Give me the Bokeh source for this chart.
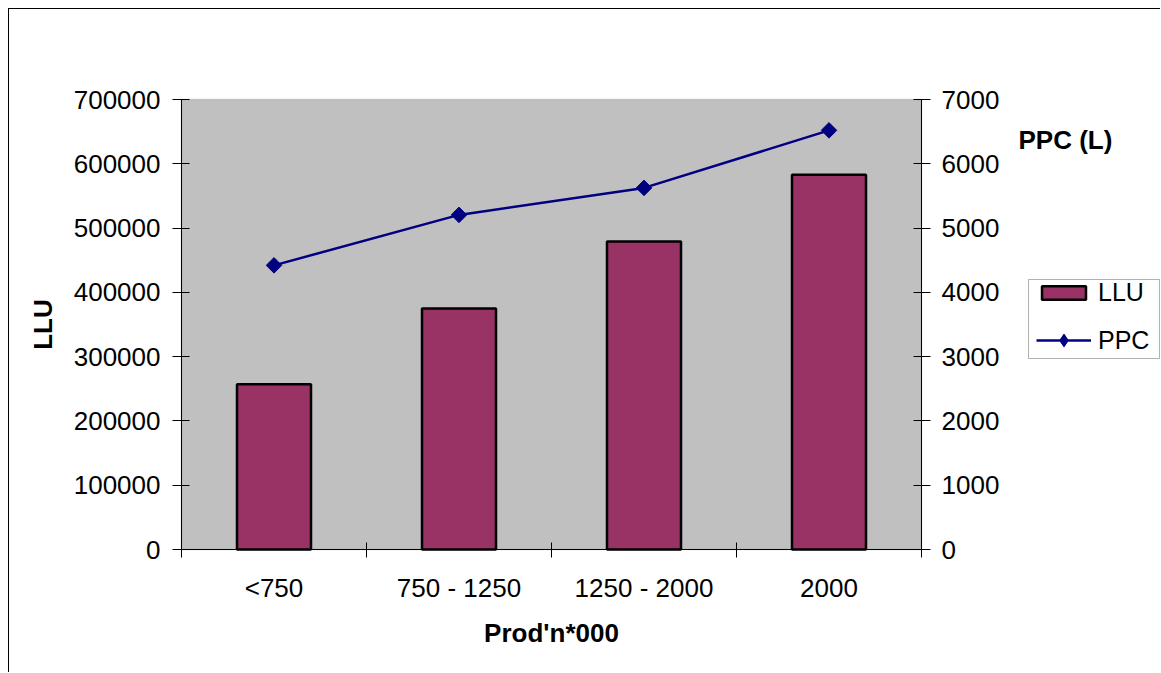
import math
from bokeh.plotting import figure
from bokeh.models import (Range1d, LinearAxis, FixedTicker, BasicTickFormatter,
                          Legend, LegendItem, Label, BoxAnnotation)
from bokeh.embed import file_html
from bokeh.resources import INLINE

# Production bands (thousands) with livestock units and per-cow production
categories = ["<750", "750 - 1250", "1250 - 2000", "2000"]
llu = [257000, 375000, 479000, 583000]
ppc = [4420, 5205, 5625, 6520]

left_ticks = list(range(0, 700001, 100000))
right_ticks = list(range(0, 7001, 1000))

FONT = "Liberation Sans"
BAR = "#993366"
NAVY = "#000080"

# page layout (pixels)
EDGE = 9                    # outer chart border offset from the page corner
W, H = 1161 - EDGE, 673 - EDGE
AREA_LEFT = 181 - EDGE      # left edge of the grey plotting area on the canvas
AREA_BOTTOM = 549 - EDGE    # bottom edge of the grey plotting area
CAT_W = 185                 # width of one category band
AREA_H = 450                # height of the plotting area

n = len(categories)
centers = [i + 0.5 for i in range(n)]
llu_per_px = max(left_ticks) / AREA_H
ppc_per_px = max(right_ticks) / AREA_H

# the frame covers the whole canvas; axes are pinned to the plotting area
p = figure(width=W, height=H, output_backend="svg", toolbar_location=None,
           x_range=Range1d(-AREA_LEFT / CAT_W, (W - AREA_LEFT) / CAT_W),
           y_range=Range1d(-(H - AREA_BOTTOM) * llu_per_px, AREA_BOTTOM * llu_per_px),
           min_border_left=0, min_border_right=0,
           min_border_top=0, min_border_bottom=0,
           margin=(EDGE - 1, 0, 0, EDGE - 1),
           styles={"border-left": "1.5px solid #000000",
                   "border-top": "1.5px solid #000000"})
p.title.visible = False
p.background_fill_color = "white"
p.border_fill_color = "white"
p.outline_line_color = None
p.xgrid.visible = False
p.ygrid.visible = False
p.extra_y_ranges = {"ppc": Range1d(-(H - AREA_BOTTOM) * ppc_per_px,
                                   AREA_BOTTOM * ppc_per_px)}

# grey plotting area
p.add_layout(BoxAnnotation(left=0, right=n, bottom=0, top=max(left_ticks),
                           fill_color="#c0c0c0", fill_alpha=1,
                           line_color="#808080", line_width=1.5,
                           level="underlay", editable=False))

# Bars (left axis)
bars = p.vbar(x=centers, top=llu, width=0.4, bottom=0,
              fill_color=BAR, line_color="black", line_width=2.5)

# PPC line with diamond markers (right axis)
ln = p.line(x=centers, y=ppc, y_range_name="ppc", line_color=NAVY, line_width=2.5)
pts = p.scatter(x=centers, y=ppc, y_range_name="ppc", marker="square",
                angle=math.pi / 4, size=11, fill_color=NAVY, line_color=NAVY)
# diamond used for the legend key (sits inside the markers above)
key = p.scatter(x=centers, y=ppc, y_range_name="ppc", marker="diamond",
                size=12, fill_color=NAVY, line_color=NAVY)

def style_axis(ax):
    ax.major_label_text_font = FONT
    ax.major_label_text_font_size = "26px"
    ax.major_label_text_color = "black"
    ax.axis_line_color = "black"
    ax.major_tick_line_color = "black"
    ax.minor_tick_line_color = "black"

# x axis: labels at category centres, tick marks at category boundaries
xa = p.xaxis[0]
style_axis(xa)
xa.fixed_location = 0
xa.bounds = (0, n)
xa.ticker = FixedTicker(ticks=centers, minor_ticks=list(range(n + 1)))
xa.major_label_overrides = {c: lab for c, lab in zip(centers, categories)}
xa.major_tick_in = 0
xa.major_tick_out = 0
xa.minor_tick_in = 7
xa.minor_tick_out = 8
xa.major_label_standoff = 15

# left axis
ya = p.yaxis[0]
style_axis(ya)
ya.fixed_location = 0
ya.bounds = (0, max(left_ticks))
ya.ticker = FixedTicker(ticks=left_ticks, minor_ticks=[])
ya.formatter = BasicTickFormatter(use_scientific=False)
ya.major_tick_in = 8
ya.major_tick_out = 9
ya.major_label_standoff = 12

# right axis
ra = LinearAxis(y_range_name="ppc", fixed_location=n)
style_axis(ra)
ra.bounds = (0, max(right_ticks))
ra.ticker = FixedTicker(ticks=right_ticks, minor_ticks=[])
ra.formatter = BasicTickFormatter(use_scientific=False)
ra.major_tick_in = 8
ra.major_tick_out = 9
ra.major_label_standoff = 11
p.add_layout(ra, "right")

# axis titles (screen positions on the canvas, y measured from the bottom)
def title(text, x, y, angle=0.0, align="center"):
    p.add_layout(Label(x=x - EDGE, y=H - (y - EDGE), x_units="screen", y_units="screen",
                       text=text, angle=angle, text_font=FONT, text_font_size="26px",
                       text_font_style="bold", text_color="black",
                       text_baseline="middle", text_align=align))

title("Prod'n*000", 551, 632)
title("LLU", 42, 324, angle=math.pi / 2)
title("PPC (L)", 1018, 139, align="left")

# legend: white box with one row per series
p.add_layout(BoxAnnotation(left=(1028 - 181) / CAT_W, right=(1159 - 181) / CAT_W,
                           top=(549 - 279) * llu_per_px, bottom=(549 - 358) * llu_per_px,
                           fill_color="white", fill_alpha=1, line_color="black",
                           line_width=1, level="annotation", editable=False))

def legend_row(label, renderers, row_y, glyph_h):
    lg = Legend(items=[LegendItem(label=label, renderers=renderers)],
                location=(1036 - EDGE, H - (row_y + glyph_h / 2 - EDGE)),
                orientation="vertical",
                label_text_font=FONT, label_text_font_size="25px",
                label_text_color="black", label_standoff=7,
                glyph_width=55, glyph_height=glyph_h, label_height=glyph_h,
                padding=0, margin=0, spacing=0,
                border_line_color=None, background_fill_alpha=0)
    p.add_layout(lg)

legend_row("LLU", [bars], 298, 17)
legend_row("PPC", [ln, key], 340, 32)

open("out.html", "w").write(file_html(p, INLINE))
